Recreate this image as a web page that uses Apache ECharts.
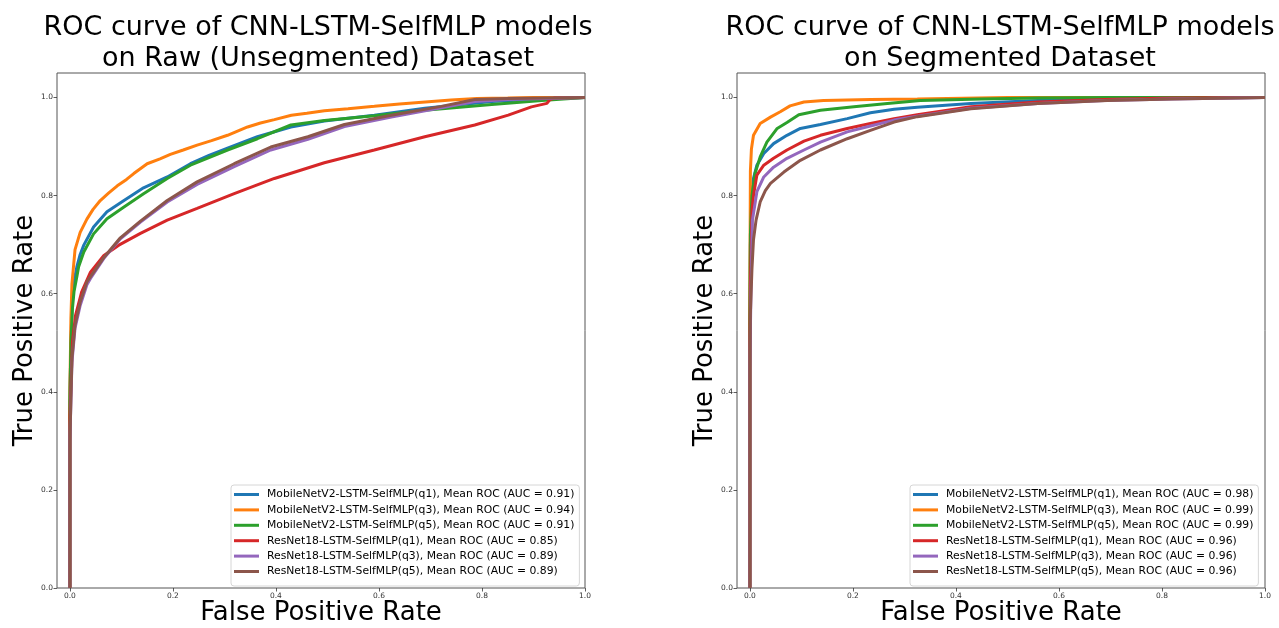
<!DOCTYPE html>
<html><head><meta charset="utf-8">
<script src="https://cdn.jsdelivr.net/npm/echarts@6/dist/echarts.min.js"></script>
<style>html,body{margin:0;padding:0;background:#fff}#c{width:1279px;height:628px}</style>
</head><body><div id="c"></div>
<script>
const FONT = 'DejaVu Sans';
const titles = ['ROC curve of CNN-LSTM-SelfMLP models\non Raw (Unsegmented) Dataset', 'ROC curve of CNN-LSTM-SelfMLP models\non Segmented Dataset'];
const xName = 'False Positive Rate';
const yName = 'True Positive Rate';
const tickValues = [0, 0.2, 0.4, 0.6, 0.8, 1.0];
const colors = ['#1f77b4', '#ff7f0e', '#2ca02c', '#d62728', '#9467bd', '#8c564b'];
const modelNames = ['MobileNetV2-LSTM-SelfMLP(q1)', 'MobileNetV2-LSTM-SelfMLP(q3)', 'MobileNetV2-LSTM-SelfMLP(q5)', 'ResNet18-LSTM-SelfMLP(q1)', 'ResNet18-LSTM-SelfMLP(q3)', 'ResNet18-LSTM-SelfMLP(q5)'];
const aucLeft = ['0.91', '0.94', '0.91', '0.85', '0.89', '0.89'];
const aucRight = ['0.98', '0.99', '0.99', '0.96', '0.96', '0.96'];

// Left panel: [FPR, TPR]
const L_blue = [[0,0],[0,0.38],[0.002,0.5],[0.004,0.57],[0.008,0.625],[0.0136,0.655],[0.02,0.68],[0.027,0.699],[0.046,0.736],[0.072,0.767],[0.105,0.79],[0.143,0.816],[0.189,0.838],[0.234,0.865],[0.27,0.882],[0.306,0.897],[0.364,0.92],[0.429,0.94],[0.494,0.952],[0.591,0.964],[0.689,0.978],[0.819,0.992],[0.915,0.997],[1,1]];
const L_orange = [[0,0],[0,0.4],[0.002,0.55],[0.004,0.62],[0.01,0.69],[0.02,0.725],[0.033,0.752],[0.045,0.772],[0.059,0.79],[0.075,0.805],[0.092,0.82],[0.11,0.833],[0.124,0.845],[0.15,0.865],[0.175,0.875],[0.195,0.884],[0.22,0.893],[0.247,0.903],[0.275,0.912],[0.306,0.923],[0.345,0.94],[0.37,0.948],[0.397,0.955],[0.43,0.964],[0.46,0.968],[0.494,0.973],[0.54,0.977],[0.591,0.982],[0.64,0.987],[0.69,0.991],[0.74,0.995],[0.79,0.998],[0.85,0.999],[0.9,1.0],[1,1]];
const L_green = [[0,0],[0,0.38],[0.002,0.5],[0.005,0.57],[0.008,0.604],[0.0136,0.635],[0.017,0.655],[0.027,0.685],[0.046,0.722],[0.072,0.753],[0.105,0.777],[0.143,0.804],[0.189,0.835],[0.234,0.862],[0.306,0.893],[0.364,0.916],[0.429,0.944],[0.494,0.953],[0.591,0.963],[0.689,0.974],[0.819,0.986],[0.916,0.994],[1,1]];
const L_red = [[0,0],[0,0.35],[0.005,0.502],[0.011,0.556],[0.023,0.604],[0.04,0.644],[0.066,0.678],[0.095,0.699],[0.137,0.723],[0.189,0.75],[0.247,0.774],[0.319,0.804],[0.397,0.835],[0.494,0.867],[0.591,0.893],[0.689,0.92],[0.786,0.944],[0.851,0.964],[0.896,0.981],[0.926,0.988],[0.932,0.996],[0.941,0.999],[1,1]];
const L_purple = [[0,0],[0,0.3],[0.004,0.46],[0.01,0.53],[0.02,0.576],[0.033,0.618],[0.04,0.631],[0.066,0.672],[0.098,0.712],[0.137,0.746],[0.189,0.787],[0.247,0.823],[0.319,0.859],[0.39,0.893],[0.462,0.915],[0.533,0.941],[0.624,0.96],[0.721,0.979],[0.786,0.992],[0.85,0.996],[1,1]];
const L_brown = [[0,0],[0,0.3],[0.004,0.468],[0.01,0.536],[0.02,0.583],[0.033,0.624],[0.04,0.635],[0.066,0.674],[0.098,0.714],[0.137,0.748],[0.189,0.79],[0.247,0.828],[0.319,0.865],[0.39,0.899],[0.462,0.92],[0.533,0.945],[0.624,0.964],[0.721,0.982],[0.786,0.996],[0.85,0.998],[1,1]];

// Right panel: [FPR, TPR]
const R_blue = [[0,0],[0,0.5],[0.001,0.7],[0.003,0.79],[0.007,0.835],[0.0136,0.862],[0.027,0.886],[0.046,0.906],[0.072,0.923],[0.098,0.937],[0.137,0.945],[0.189,0.957],[0.234,0.969],[0.28,0.976],[0.325,0.98],[0.429,0.988],[0.559,0.994],[0.689,0.997],[0.85,0.999],[1,1]];
const R_orange = [[0,0],[0,0.6],[0.001,0.85],[0.003,0.895],[0.007,0.923],[0.02,0.947],[0.04,0.96],[0.059,0.971],[0.078,0.983],[0.105,0.991],[0.143,0.994],[0.234,0.996],[0.325,0.997],[0.5,1],[1,1]];
const R_green = [[0,0],[0,0.55],[0.001,0.72],[0.004,0.8],[0.01,0.845],[0.02,0.879],[0.033,0.909],[0.053,0.937],[0.072,0.949],[0.095,0.965],[0.137,0.974],[0.202,0.981],[0.267,0.988],[0.331,0.994],[0.45,0.997],[0.559,0.999],[0.7,1],[1,1]];
const R_red = [[0,0],[0,0.5],[0.001,0.62],[0.004,0.77],[0.007,0.8],[0.0136,0.842],[0.027,0.862],[0.046,0.876],[0.072,0.893],[0.105,0.911],[0.137,0.923],[0.189,0.937],[0.234,0.947],[0.28,0.957],[0.325,0.965],[0.429,0.981],[0.559,0.991],[0.689,0.996],[0.819,0.999],[1,1]];
const R_purple = [[0,0],[0,0.45],[0.002,0.6],[0.005,0.75],[0.0136,0.808],[0.027,0.838],[0.046,0.858],[0.072,0.876],[0.105,0.893],[0.137,0.909],[0.189,0.93],[0.234,0.942],[0.28,0.954],[0.325,0.962],[0.429,0.978],[0.559,0.988],[0.689,0.994],[0.819,0.997],[1,1]];
const R_brown = [[0,0],[0,0.45],[0.001,0.56],[0.004,0.65],[0.007,0.71],[0.012,0.75],[0.02,0.787],[0.03,0.81],[0.04,0.825],[0.066,0.848],[0.098,0.872],[0.137,0.893],[0.189,0.916],[0.234,0.933],[0.28,0.95],[0.325,0.961],[0.429,0.977],[0.559,0.988],[0.694,0.994],[0.82,0.997],[1,1]];

const leftData = [L_blue, L_orange, L_green, L_red, L_purple, L_brown];
const rightData = [R_blue, R_orange, R_green, R_red, R_purple, R_brown];

const gridsPos = [{left: 57, top: 73, width: 528, height: 515}, {left: 737, top: 73, width: 528, height: 515}];
const titleCenters = [318, 1000];
const legendLeft = [231, 910];

function mkAxisCommon() {
  return {
    splitLine: {show: false},
    axisLine: {show: false, onZero: false},
    axisTick: {show: true, length: 3.5, inside: false, lineStyle: {color: '#333', width: 0.8}, customValues: tickValues},
    axisLabel: {fontFamily: FONT, fontSize: 7.5, color: '#333', margin: 4, formatter: v => v.toFixed(1), customValues: tickValues},
    nameMoveOverlap: false
  };
}

const option = {
  animation: false,
  backgroundColor: '#fff',
  title: titles.map((t, i) => ({
    text: t, left: titleCenters[i], top: 12, textAlign: 'center', padding: 0,
    textStyle: {fontFamily: FONT, fontSize: 27, fontWeight: 'normal', color: '#000', lineHeight: 31}
  })),
  grid: gridsPos.map(g => Object.assign({show: true, borderColor: '#555', borderWidth: 1, backgroundColor: 'transparent', containLabel: false, outerBoundsMode: 'none'}, g)),
  xAxis: [0, 1].map(i => Object.assign(mkAxisCommon(), {
    type: 'value', gridIndex: i, min: -0.025, max: 1.0,
    name: xName, nameLocation: 'middle', nameGap: 11,
    nameTextStyle: {fontFamily: FONT, fontSize: 26, color: '#000', verticalAlign: 'top', lineHeight: 28}
  })),
  yAxis: [0, 1].map(i => Object.assign(mkAxisCommon(), {
    type: 'value', gridIndex: i, min: 0, max: 1.05,
    name: yName, nameLocation: 'middle', nameGap: 18,
    nameTextStyle: {fontFamily: FONT, fontSize: 26, color: '#000', lineHeight: 28}
  })),
  legend: [0, 1].map(i => ({
    orient: 'vertical', left: legendLeft[i], top: 485,
    data: modelNames.map((n, k) => n + ', Mean ROC (AUC = ' + (i === 0 ? aucLeft[k] : aucRight[k]) + ')'),
    icon: 'rect', itemWidth: 25, itemHeight: 3, itemGap: 2.4,
    padding: [3, 5, 8, 3],
    backgroundColor: 'rgba(255,255,255,0.8)', borderColor: '#d6d6d6', borderWidth: 1, borderRadius: 3,
    textStyle: {fontFamily: FONT, fontSize: 10.8, color: '#000', lineHeight: 13, padding: [0, 0, 0, 3]},
    selectedMode: false
  })),
  series: []
};

[leftData, rightData].forEach((set, i) => {
  set.forEach((d, k) => {
    option.series.push({
      type: 'line', xAxisIndex: i, yAxisIndex: i,
      name: modelNames[k] + ', Mean ROC (AUC = ' + (i === 0 ? aucLeft[k] : aucRight[k]) + ')',
      data: d, showSymbol: false, symbol: 'none', smooth: false,
      lineStyle: {width: 3, color: colors[k]}, itemStyle: {color: colors[k]},
      z: 2 + k
    });
  });
});

const chart = echarts.init(document.getElementById('c'), null, {renderer: 'canvas'});
chart.setOption(option);
</script>
</body></html>
